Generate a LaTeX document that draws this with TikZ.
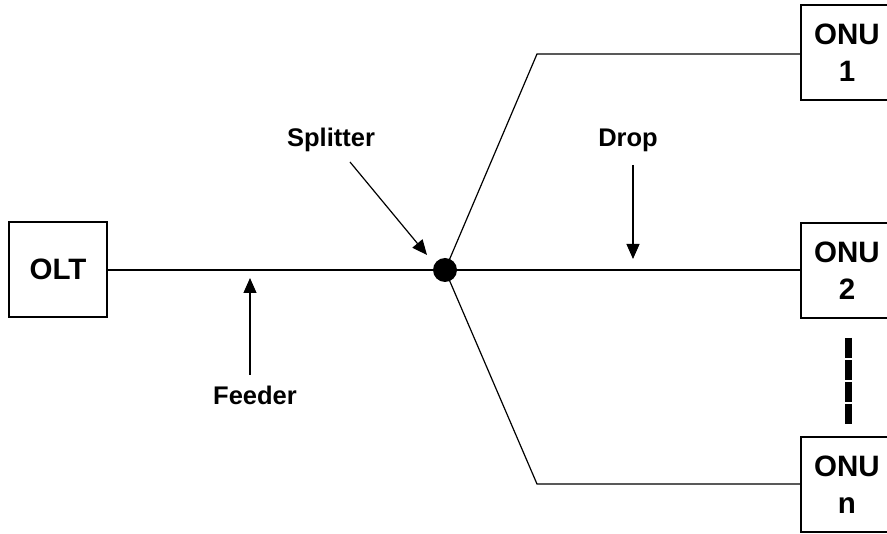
\documentclass[tikz,border=0pt]{standalone}
\usepackage{fontspec}
\setmainfont{Liberation Sans}
\usetikzlibrary{arrows.meta}

\tikzset{
    unit/.style = {draw, line width=2pt, minimum height=95pt, align=center,
        font=\fontsize{29.5}{37}\selectfont\bfseries},
    lbl/.style = {font=\fontsize{25.5}{30}\selectfont\bfseries},
    fiber/.style = {line width=1.2pt},
    pointer/.style = {line width=1.2pt, -{Triangle[length=15pt,width=13pt]}},
}

\begin{document}
\begin{tikzpicture}[x=1pt, y=-1pt]
        \useasboundingbox (0,0) rectangle (887,534);
        \clip (0,0) rectangle (887,534);
        \node[unit, minimum width=98pt] (olt) at (58,269.5) {OLT};
        \node[unit, minimum width=92pt] (onu1) at (847,52.5) {ONU\\1};
        \node[unit, minimum width=92pt] (onu2) at (847,270.5) {ONU\\2};
        \node[unit, minimum width=92pt] (onun) at (847,485) {ONU\\n};
        \node[circle, fill, minimum size=24pt, inner sep=0pt] (split) at (445,270) {};
        \coordinate (bend1) at (537,54);
        \coordinate (bendn) at (537,484);
        \draw[fiber] (olt.east |- split) -- (split.center) -- (onu2.west |- split);
        \draw[fiber] (split.center) -- (bend1) -- (onu1.west |- bend1);
        \draw[fiber] (split.center) -- (bendn) -- (onun.west |- bendn);
        \draw[line width=7pt, dash pattern=on 20pt off 2pt] (onu2.south) ++(1,19) coordinate (dots1)
            -- ++(0,88) coordinate (dots2);
        % labels
        \node[lbl] (splitlbl) at (331,140) {Splitter};
        \node[lbl] (droplbl) at (628,140) {Drop};
        \node[lbl] (feedlbl) at (255,395) {Feeder};
        \coordinate (splittail) at (350,162);
        \coordinate (splittip) at (427,255);
        \coordinate (droptail) at (633,165);
        \coordinate (droptip) at (633,259);
        \coordinate (feedtail) at (250,375);
        \coordinate (feedtip) at (250,278);
        \draw[pointer] (splittail) -- (splittip);
        \draw[pointer] (droptail) -- (droptip);
        \draw[pointer] (feedtail) -- (feedtip);
    \end{tikzpicture}
\end{document}
